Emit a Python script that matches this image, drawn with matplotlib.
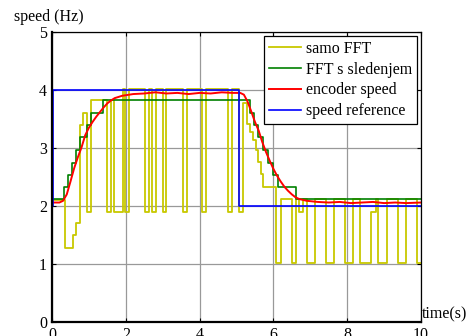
import matplotlib
matplotlib.use("Agg")
import matplotlib.pyplot as plt

# samo FFT (step signal, value holds until next time)
fft_t = [0, 0.35, 0.56, 0.65, 0.76, 0.85, 0.96, 1.07, 1.48, 1.59, 1.68, 1.92,
         1.98, 2.10, 2.52, 2.63, 2.71, 2.82, 3.00, 3.10, 3.55, 3.66, 4.06, 4.17,
         4.77, 4.88, 5.07, 5.18, 5.28, 5.36, 5.45, 5.52, 5.59, 5.66, 5.73, 6.08,
         6.20, 6.50, 6.61, 6.70, 6.81, 6.91, 7.13, 7.43, 7.63, 7.94, 8.16, 8.35,
         8.64, 8.77, 8.83, 9.08, 9.37, 9.59, 9.88, 10.0]
fft_v = [2.1, 1.28, 1.5, 1.71, 3.4, 3.6, 1.9, 3.82, 1.9, 3.82, 1.9, 4.02,
         1.9, 4.02, 1.9, 4.02, 1.9, 4.02, 1.9, 4.02, 1.9, 4.02, 1.9, 4.02,
         1.9, 4.02, 1.9, 3.78, 3.42, 3.28, 3.13, 2.97, 2.76, 2.56, 2.33, 1.02,
         2.12, 1.02, 2.12, 1.9, 2.12, 1.02, 2.12, 1.02, 2.12, 1.02, 2.12, 1.02,
         1.9, 2.12, 1.02, 2.12, 1.02, 2.12, 1.02, 1.02]

# FFT s sledenjem (tracking)
track_t = [0, 0.33, 0.44, 0.55, 0.64, 0.76, 0.94, 1.07, 1.37, 5.37, 5.48,
           5.59, 5.72, 5.86, 5.99, 6.13, 6.61, 10.0]
track_v = [2.12, 2.33, 2.54, 2.75, 2.96, 3.19, 3.40, 3.61, 3.82, 3.61, 3.40,
           3.19, 2.97, 2.75, 2.54, 2.33, 2.12, 2.12]

# encoder speed
enc_t = [0, 0.1, 0.2, 0.3, 0.4, 0.5, 0.6, 0.7, 0.8, 0.9, 1.0, 1.1, 1.2, 1.3,
         1.4, 1.5, 1.6, 1.7, 1.8, 1.9, 2.0, 2.2, 2.5, 2.8, 3.1, 3.4, 3.7, 4.0,
         4.3, 4.6, 4.9, 5.1, 5.2, 5.3, 5.4, 5.5, 5.6, 5.7, 5.8, 5.9, 6.0, 6.1,
         6.2, 6.3, 6.4, 6.5, 6.6, 6.7, 6.9, 7.2, 7.5, 7.8, 8.1, 8.4, 8.7, 9.0,
         9.3, 9.6, 10.0]
enc_v = [2.06, 2.06, 2.06, 2.09, 2.2, 2.42, 2.65, 2.84, 3.01, 3.22, 3.35,
         3.45, 3.54, 3.62, 3.7, 3.77, 3.82, 3.86, 3.88, 3.9, 3.91, 3.93, 3.94,
         3.96, 3.94, 3.95, 3.93, 3.95, 3.94, 3.96, 3.95, 3.95, 3.92, 3.8, 3.63,
         3.45, 3.3, 3.1, 2.93, 2.78, 2.64, 2.52, 2.42, 2.33, 2.26, 2.2, 2.15,
         2.12, 2.09, 2.07, 2.06, 2.07, 2.05, 2.06, 2.07, 2.05, 2.06, 2.05, 2.06]

# speed reference
ref_t = [0, 0.04, 5.08, 10.0]
ref_v = [2.0, 4.0, 2.0, 2.0]

plt.rcParams['font.family'] = ['Liberation Serif', 'DejaVu Serif']
plt.rcParams['font.size'] = 11

fig = plt.figure(figsize=(4.72, 3.36), dpi=100)
ax = fig.add_axes([52 / 472, 1 - 322 / 336, 369 / 472, 290 / 336])

ax.step(fft_t, fft_v, where='post', color='#c8c800', lw=1.3, label='samo FFT')
ax.step(track_t, track_v, where='post', color='#008000', lw=1.2, label='FFT s sledenjem')
ax.plot(enc_t, enc_v, color='#ff0000', lw=1.4, label='encoder speed')
ax.step(ref_t, ref_v, where='post', color='#0000ff', lw=1.2, label='speed reference')

ax.set_xlim(0, 10)
ax.set_ylim(0, 5)
ax.set_xticks(range(0, 11, 2))
ax.set_yticks(range(0, 6))
ax.grid(True, color='#999999', lw=0.9)
ax.set_axisbelow(True)
ax.tick_params(direction='in', top=True, right=True, length=3, labelsize=11.5)
for side in ['left', 'bottom']:
    ax.spines[side].set_linewidth(1.6)
for side in ['top', 'right']:
    ax.spines[side].set_linewidth(0.9)

ax.text(10.02, 0.0, 'time(s)', ha='left', va='bottom', fontsize=11.5)
fig.text(49 / 472, 1 - 17 / 336, 'speed (Hz)', ha='center', va='center', fontsize=11.5)

leg = ax.legend(loc='upper right', fancybox=False, edgecolor='black', framealpha=1,
                borderaxespad=0.25, borderpad=0.3, labelspacing=0.3,
                handlelength=2.0, handletextpad=0.3, fontsize=11.5)
leg.get_frame().set_linewidth(0.9)

fig.savefig('out.png', dpi=100)
